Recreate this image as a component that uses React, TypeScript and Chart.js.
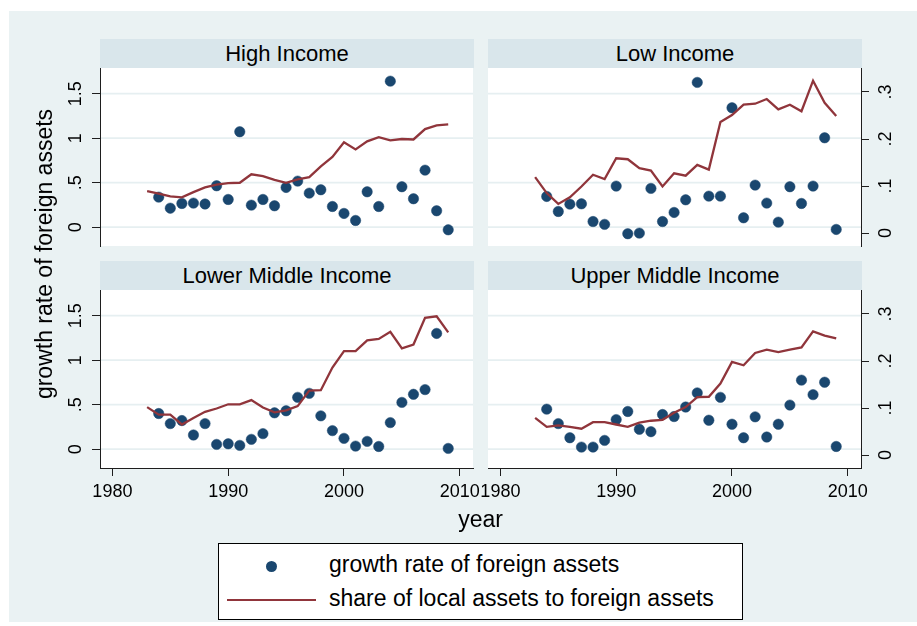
import React, { useEffect, useRef } from "react";
import { Chart, registerables } from "chart.js";

Chart.register(...registerables);

// ---------------- data ----------------
const POINT_YEARS = [
  1984, 1985, 1986, 1987, 1988, 1989, 1990, 1991, 1992, 1993, 1994, 1995, 1996,
  1997, 1998, 1999, 2000, 2001, 2002, 2003, 2004, 2005, 2006, 2007, 2008, 2009,
];
const LINE_YEARS = [
  1983, 1984, 1985, 1986, 1987, 1988, 1989, 1990, 1991, 1992, 1993, 1994, 1995,
  1996, 1997, 1998, 1999, 2000, 2001, 2002, 2003, 2004, 2005, 2006, 2007, 2008, 2009,
];

const HIGH_GROWTH = [
  0.337, 0.213, 0.266, 0.27, 0.26, 0.465, 0.311, 1.072, 0.247, 0.311, 0.24, 0.446, 0.517,
  0.382, 0.42, 0.232, 0.154, 0.075, 0.397, 0.232, 1.64, 0.454, 0.319, 0.64, 0.184, -0.03,
];
const HIGH_SHARE = [
  0.089, 0.084, 0.078, 0.076, 0.087, 0.097, 0.103, 0.106, 0.107, 0.125, 0.121, 0.113, 0.107,
  0.114, 0.119, 0.142, 0.162, 0.193, 0.178, 0.195, 0.204, 0.197, 0.2, 0.199, 0.221, 0.229, 0.231,
];

const LOW_GROWTH = [
  0.345, 0.176, 0.258, 0.262, 0.063, 0.031, 0.461, -0.074, -0.067, 0.435, 0.063, 0.165, 0.307,
  1.626, 0.348, 0.348, 1.341, 0.105, 0.472, 0.27, 0.056, 0.454, 0.266, 0.461, 1.004, -0.026,
];
const LOW_SHARE = [
  0.119, 0.085, 0.062, 0.076, 0.099, 0.124, 0.115, 0.159, 0.157, 0.138, 0.133, 0.099, 0.127,
  0.122, 0.145, 0.135, 0.236, 0.251, 0.273, 0.275, 0.285, 0.263, 0.273, 0.259, 0.324, 0.277, 0.249,
];

const LOWER_MID_GROWTH = [
  0.4, 0.287, 0.321, 0.159, 0.287, 0.053, 0.06, 0.042, 0.11, 0.174, 0.408, 0.431, 0.582,
  0.627, 0.374, 0.208, 0.121, 0.034, 0.087, 0.03, 0.298, 0.525, 0.616, 0.669, 1.3, 0.008,
];
const LOWER_MID_SHARE = [
  0.102, 0.086, 0.086, 0.065, 0.079, 0.092, 0.099, 0.108, 0.108, 0.117, 0.101, 0.091, 0.095,
  0.104, 0.137, 0.138, 0.186, 0.221, 0.221, 0.244, 0.247, 0.262, 0.227, 0.235, 0.292, 0.295, 0.261,
];

const UPPER_MID_GROWTH = [
  0.449, 0.287, 0.128, 0.023, 0.023, 0.098, 0.332, 0.423, 0.223, 0.196, 0.389, 0.366, 0.473,
  0.632, 0.325, 0.582, 0.28, 0.128, 0.363, 0.136, 0.28, 0.495, 0.775, 0.612, 0.752, 0.03,
];
const UPPER_MID_SHARE = [
  0.079, 0.06, 0.063, 0.06, 0.056, 0.07, 0.07, 0.065, 0.06, 0.069, 0.073, 0.075, 0.09,
  0.102, 0.123, 0.124, 0.152, 0.198, 0.191, 0.217, 0.224, 0.219, 0.224, 0.229, 0.263, 0.254, 0.248,
];

const PANEL_TITLES = ["High Income", "Low Income", "Lower Middle Income", "Upper Middle Income"];
const SERIES_NAMES = ["growth rate of foreign assets", "share of local assets to foreign assets"];
const Y_TITLE = "growth rate of foreign assets";
const X_TITLE = "year";

const X_TICKS = [1980, 1990, 2000, 2010];
const X_TICK_LABELS = ["1980", "1990", "2000", "2010"];
const LEFT_TICKS = [0, 0.5, 1, 1.5];
const LEFT_TICK_LABELS = ["0", ".5", "1", "1.5"];
const RIGHT_TICKS = [0, 0.1, 0.2, 0.3];
const RIGHT_TICK_LABELS = ["0", ".1", ".2", ".3"];

// ---------------- style / layout ----------------
const FONT = '"Liberation Sans", Arial, Helvetica, sans-serif';
const NAVY = "#1A476F";
const MAROON = "#90353B";
const BG = "#EAF2F3";
const STRIP = "#D9E6EB";
const GRID = "#E6EFF1";
const AXIS = "#1e1e1e";

const PLOT_W = 373;
const PLOT_H = 178;
const COL_X = [100, 488];
const ROW_Y = [68, 290];
const STRIP_H = 29;
const AXIS_W = 50;
const X_AXIS_H = 42;
const X_MIN = 1978.93;
const X_MAX = 2011.14;
const Y_MIN = -0.212;
const Y_MAX = 1.788;
const Y2_MIN = -0.0275;
const Y2_MAX = 0.351;

const EXT_L = 60;
const EXT_R = 60;
const EXT_T = 6;
const EXT_B = 50;

type PanelProps = {
  col: number;
  row: number;
  growth: number[];
  share: number[];
};

function Panel({ col, row, growth, share }: PanelProps) {
  const ref = useRef<HTMLCanvasElement | null>(null);
  const showLeft = col === 0;
  const showRight = col === 1;
  const showX = row === 1;
  const W = PLOT_W + EXT_L + EXT_R;
  const H = PLOT_H + EXT_T + EXT_B;

  useEffect(() => {
    const canvas = ref.current;
    if (!canvas) return;
    const tickFont = { family: FONT, size: 18 };

    const decor = {
      id: "decor",
      beforeDraw(chart: any) {
        const { ctx, chartArea: a } = chart;
        ctx.save();
        ctx.fillStyle = "#ffffff";
        ctx.fillRect(a.left, a.top, a.right - a.left, a.bottom - a.top);
        const ys = chart.scales.y;
        ctx.strokeStyle = GRID;
        ctx.lineWidth = 1.6;
        LEFT_TICKS.forEach((v) => {
          const py = ys.getPixelForValue(v);
          ctx.beginPath();
          ctx.moveTo(a.left, py);
          ctx.lineTo(a.right, py);
          ctx.stroke();
        });
        ctx.restore();
      },
      afterDraw(chart: any) {
        const { ctx, chartArea: a } = chart;
        ctx.save();
        ctx.fillStyle = "#000";
        ctx.font = `18px ${FONT}`;
        ctx.textAlign = "center";
        ctx.textBaseline = "middle";
        const draw = (scale: any, ticks: number[], labels: string[], x: number) => {
          ticks.forEach((v, i) => {
            const py = scale.getPixelForValue(v);
            ctx.save();
            ctx.translate(x, py);
            ctx.rotate(-Math.PI / 2);
            ctx.fillText(labels[i], 0, 0);
            ctx.restore();
          });
        };
        if (showLeft) draw(chart.scales.y, LEFT_TICKS, LEFT_TICK_LABELS, a.left - 24);
        if (showRight) draw(chart.scales.y2, RIGHT_TICKS, RIGHT_TICK_LABELS, a.right + 25);
        ctx.restore();
      },
    };

    const chart = new Chart(canvas, {
      type: "scatter",
      data: {
        datasets: [
          {
            type: "scatter",
            label: SERIES_NAMES[0],
            data: POINT_YEARS.map((x, i) => ({ x, y: growth[i] })),
            xAxisID: "x",
            yAxisID: "y",
            pointRadius: 5.2,
            pointBackgroundColor: NAVY,
            pointBorderColor: NAVY,
            pointBorderWidth: 0.5,
            order: 2,
          } as any,
          {
            type: "line",
            label: SERIES_NAMES[1],
            data: LINE_YEARS.map((x, i) => ({ x, y: share[i] })),
            xAxisID: "x",
            yAxisID: "y2",
            borderColor: MAROON,
            borderWidth: 2.3,
            pointRadius: 0,
            tension: 0,
            fill: false,
            showLine: true,
            order: 1,
          } as any,
        ],
      },
      options: {
        responsive: false,
        animation: false,
        devicePixelRatio: 1,
        events: [],
        layout: {
          padding: {
            left: EXT_L - (showLeft ? AXIS_W : 0),
            right: EXT_R - (showRight ? AXIS_W : 0),
            top: EXT_T,
            bottom: EXT_B - (showX ? X_AXIS_H : 0),
          },
        },
        plugins: { legend: { display: false }, tooltip: { enabled: false } },
        scales: {
          x: {
            type: "linear",
            position: "bottom",
            min: X_MIN,
            max: X_MAX,
            display: showX,
            afterBuildTicks: (s: any) => {
              s.ticks = X_TICKS.map((v) => ({ value: v }));
            },
            afterFit: (s: any) => {
              s.height = showX ? X_AXIS_H : 0;
              s.paddingLeft = 0;
              s.paddingRight = 0;
            },
            ticks: {
              font: tickFont,
              color: "#000",
              padding: 5,
              maxRotation: 0,
              minRotation: 0,
              autoSkip: false,
              callback: (_v: any, i: number) => X_TICK_LABELS[i],
            },
            grid: { drawOnChartArea: false, drawTicks: true, tickLength: 8, color: AXIS, lineWidth: 1 },
            border: { display: true, color: AXIS, width: 1 },
          },
          y: {
            type: "linear",
            position: "left",
            min: Y_MIN,
            max: Y_MAX,
            display: showLeft,
            afterBuildTicks: (s: any) => {
              s.ticks = LEFT_TICKS.map((v) => ({ value: v }));
            },
            afterFit: (s: any) => {
              s.width = showLeft ? AXIS_W : 0;
            },
            ticks: { display: false },
            grid: { drawOnChartArea: false, drawTicks: true, tickLength: 8, color: AXIS, lineWidth: 1 },
            border: { display: true, color: AXIS, width: 1 },
          },
          y2: {
            type: "linear",
            position: "right",
            min: Y2_MIN,
            max: Y2_MAX,
            display: showRight,
            afterBuildTicks: (s: any) => {
              s.ticks = RIGHT_TICKS.map((v) => ({ value: v }));
            },
            afterFit: (s: any) => {
              s.width = showRight ? AXIS_W : 0;
            },
            ticks: { display: false },
            grid: { drawOnChartArea: false, drawTicks: true, tickLength: 8, color: AXIS, lineWidth: 1 },
            border: { display: true, color: AXIS, width: 1 },
          },
        },
      } as any,
      plugins: [decor],
    } as any);
    return () => chart.destroy();
  }, []);

  return (
    <canvas
      ref={ref}
      width={W}
      height={H}
      style={{
        position: "absolute",
        left: COL_X[col] - EXT_L,
        top: ROW_Y[row] - EXT_T,
        width: W,
        height: H,
      }}
    />
  );
}

const PANELS = [
  { col: 0, row: 0, title: PANEL_TITLES[0], growth: HIGH_GROWTH, share: HIGH_SHARE },
  { col: 1, row: 0, title: PANEL_TITLES[1], growth: LOW_GROWTH, share: LOW_SHARE },
  { col: 0, row: 1, title: PANEL_TITLES[2], growth: LOWER_MID_GROWTH, share: LOWER_MID_SHARE },
  { col: 1, row: 1, title: PANEL_TITLES[3], growth: UPPER_MID_GROWTH, share: UPPER_MID_SHARE },
];

export default function App() {
  return (
    <div
      style={{
        position: "fixed",
        left: 0,
        top: 0,
        width: 917,
        height: 626,
        background: "#fff",
        overflow: "hidden",
        fontFamily: FONT,
        color: "#000",
      }}
    >
      <div style={{ position: "absolute", left: 9, top: 11, width: 908, height: 611, background: BG }} />
      {PANELS.map((p) => (
        <div
          key={"s" + p.title}
          style={{
            position: "absolute",
            left: COL_X[p.col],
            top: ROW_Y[p.row] - STRIP_H,
            width: PLOT_W + 1,
            height: STRIP_H,
            background: STRIP,
            fontSize: 22,
            lineHeight: STRIP_H + "px",
            textAlign: "center",
            whiteSpace: "nowrap",
          }}
        >
          {p.title}
        </div>
      ))}
      {PANELS.map((p) => (
        <Panel key={"p" + p.title} col={p.col} row={p.row} growth={p.growth} share={p.share} />
      ))}
      <div
        style={{
          position: "absolute",
          left: 44 - 200,
          top: 254 - 14,
          width: 400,
          height: 28,
          lineHeight: "28px",
          fontSize: 23,
          textAlign: "center",
          whiteSpace: "nowrap",
          transform: "rotate(-90deg)",
        }}
      >
        {Y_TITLE}
      </div>
      <div
        style={{
          position: "absolute",
          left: 380,
          top: 505,
          width: 201,
          height: 28,
          lineHeight: "28px",
          fontSize: 23,
          textAlign: "center",
        }}
      >
        {X_TITLE}
      </div>
      <div
        style={{
          position: "absolute",
          left: 218,
          top: 543,
          width: 525,
          height: 77,
          boxSizing: "border-box",
          border: "1px solid #000",
          background: "#fff",
        }}
      >
        <div
          style={{
            position: "absolute",
            left: 52 - 5.5,
            top: 22 - 5.5,
            width: 11,
            height: 11,
            borderRadius: "50%",
            background: NAVY,
          }}
        />
        <div
          style={{
            position: "absolute",
            left: 7.5,
            top: 54.5,
            width: 89.5,
            height: 2.5,
            background: MAROON,
          }}
        />
        <div
          style={{
            position: "absolute",
            left: 110,
            top: 6,
            height: 28,
            lineHeight: "28px",
            fontSize: 23,
            whiteSpace: "nowrap",
          }}
        >
          {SERIES_NAMES[0]}
        </div>
        <div
          style={{
            position: "absolute",
            left: 110,
            top: 40,
            height: 28,
            lineHeight: "28px",
            fontSize: 23,
            whiteSpace: "nowrap",
          }}
        >
          {SERIES_NAMES[1]}
        </div>
      </div>
    </div>
  );
}
